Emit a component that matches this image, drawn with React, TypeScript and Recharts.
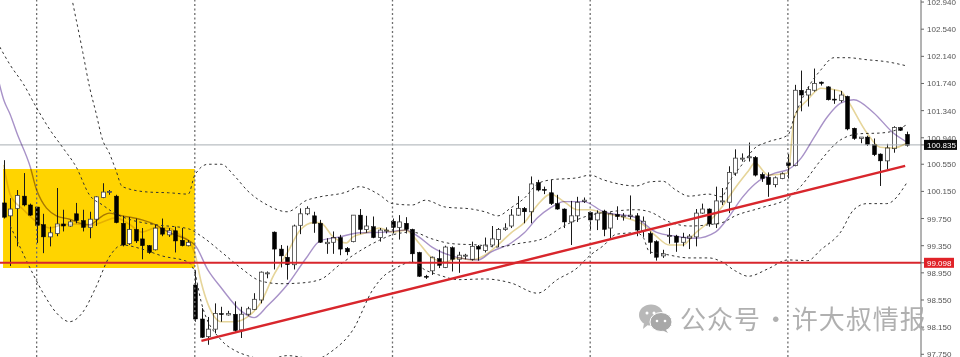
import { Bar, ComposedChart, Line, ReferenceArea, ReferenceLine, XAxis, YAxis } from 'recharts';

const opens = [99.98,99.79,99.90,100.08,99.95,99.92,99.66,99.48,99.53,99.67,99.64,99.82,99.72,99.62,99.74,100.06,100.14,100.08,99.68,99.38,99.59,99.45,99.35,99.29,99.61,99.51,99.57,99.43,99.35,98.77,98.27,98.01,98.12,98.35,98.33,98.34,98.11,98.34,98.41,98.55,98.94,99.55,99.30,99.18,99.07,99.65,99.82,99.79,99.68,99.38,99.40,99.47,99.31,99.41,99.80,99.59,99.63,99.47,99.57,99.71,99.62,99.68,99.59,99.25,98.90,98.98,99.16,99.03,99.32,99.15,99.20,99.15,99.34,99.28,99.36,99.44,99.59,99.64,99.80,99.90,99.85,100.28,100.18,100.13,99.97,99.89,99.70,99.79,100.00,99.84,99.73,99.86,99.61,99.81,99.78,99.78,99.79,99.57,99.53,99.41,99.20,99.49,99.49,99.40,99.46,99.48,99.83,99.89,99.67,100.00,99.99,100.42,100.63,100.65,100.65,100.40,100.36,100.25,100.34,100.57,100.53,101.64,101.57,101.64,101.76,101.69,101.51,101.49,101.55,101.08,100.93,100.95,100.84,100.70,100.60,100.78,101.09,100.99];
const highs = [100.61,100.05,100.17,100.42,99.97,99.92,99.82,99.63,100.20,99.88,99.73,99.98,99.88,99.85,100.08,100.27,100.17,100.10,99.79,99.77,99.75,99.61,99.36,99.66,99.75,99.61,99.63,99.61,99.43,98.99,98.43,98.30,98.50,98.45,98.39,98.53,98.45,98.45,98.65,98.97,98.97,99.56,99.36,99.35,99.66,99.90,99.93,99.85,99.73,99.46,99.56,99.51,99.33,99.80,99.89,99.79,99.78,99.61,99.62,99.75,99.80,99.77,99.60,99.26,98.92,99.19,99.29,99.35,99.34,99.26,99.23,99.41,99.36,99.47,99.64,99.61,99.68,99.89,100.08,99.92,100.37,100.32,100.22,100.32,100.10,99.90,100.01,100.07,100.06,99.85,99.87,99.88,99.84,99.93,99.83,100.09,99.83,99.78,99.56,99.43,99.29,99.61,99.51,99.54,99.52,99.89,99.97,99.90,100.22,100.20,100.52,100.77,100.71,100.87,100.67,100.43,100.43,100.37,100.43,100.70,101.72,101.93,101.69,101.96,101.77,101.70,101.65,101.63,101.56,101.09,100.95,100.97,100.93,100.71,100.85,101.11,101.10,101.03];
const lows = [99.75,99.05,99.34,99.93,99.79,99.39,99.24,99.34,99.49,99.56,99.63,99.68,99.56,99.46,99.64,100.05,100.10,99.68,99.34,99.36,99.39,99.15,99.23,99.28,99.49,99.48,99.25,99.34,99.34,98.23,97.99,97.89,98.06,98.23,98.32,98.08,97.99,98.32,98.40,98.50,98.87,99.00,99.03,98.85,99.00,99.52,99.80,99.54,99.39,99.23,99.23,99.21,99.21,99.40,99.52,99.54,99.46,99.41,99.53,99.53,99.44,99.53,99.10,98.89,98.86,98.92,99.02,99.02,98.97,98.95,99.15,99.13,99.13,99.25,99.34,99.33,99.57,99.61,99.79,99.68,99.68,100.15,100.11,99.95,99.88,99.61,99.36,99.70,99.98,99.58,99.58,99.49,99.46,99.73,99.72,99.74,99.49,99.48,99.23,99.13,99.17,99.38,99.26,99.34,99.30,99.34,99.82,99.63,99.61,99.95,99.83,100.38,100.59,100.59,100.37,100.29,100.07,100.21,100.33,100.34,100.52,101.33,101.40,101.62,101.71,101.49,101.44,101.46,101.05,100.91,100.86,100.82,100.67,100.23,100.48,100.72,101.04,100.81];
const closes = [99.77,99.89,100.09,99.95,99.80,99.65,99.48,99.54,99.67,99.64,99.70,99.72,99.62,99.74,100.07,100.14,100.15,99.69,99.36,99.59,99.42,99.35,99.25,99.61,99.52,99.57,99.42,99.35,99.40,98.27,98.00,98.12,98.35,98.34,98.35,98.10,98.34,98.42,98.56,98.96,98.95,99.30,99.20,99.07,99.64,99.82,99.90,99.68,99.40,99.40,99.47,99.30,99.26,99.80,99.59,99.64,99.47,99.58,99.58,99.62,99.70,99.59,99.23,98.90,98.89,99.18,99.06,99.33,99.15,99.21,99.21,99.34,99.30,99.36,99.45,99.59,99.61,99.80,99.90,99.85,100.26,100.17,100.17,99.97,99.89,99.70,99.79,99.99,100.02,99.73,99.83,99.59,99.82,99.78,99.79,99.80,99.58,99.71,99.40,99.18,99.23,99.50,99.40,99.47,99.49,99.83,99.89,99.67,100.01,100.01,100.43,100.64,100.64,100.66,100.39,100.34,100.25,100.35,100.41,100.53,101.64,101.57,101.65,101.74,101.74,101.50,101.50,101.57,101.07,100.93,100.95,100.84,100.69,100.60,100.79,101.09,101.05,100.83];

const upperIdx = [9,10,11,12,13,14,15,16,17,18,22,25,28,29,31,33,35,37,40,43,46,48,52,54,57,59,62,64,67,71,73,75,77,79,81,83,87,89,91,96,98,100,102,104,107,109,110,112,114,116,119,120,122,124,126,128,131,134,137];
const upperVals = [103.3,103.12,102.68,102.20,101.70,101.31,100.91,100.72,100.47,100.22,100.14,100.13,100.11,100.39,100.55,100.55,100.38,100.16,99.95,99.85,100.02,100.07,100.14,100.22,100.10,99.97,99.95,100.02,99.92,99.89,99.85,99.79,99.91,100.05,100.26,100.32,100.35,100.39,100.32,100.23,100.29,100.30,100.17,100.08,100.11,100.07,100.27,100.54,100.79,100.88,100.98,101.25,101.67,101.94,102.12,102.12,102.09,102.06,102.00];
const middleIdx = [-1,1,3,5,7,9,11,13,15,17,19,23,28,30,33,36,39,42,45,48,51,54,57,59,62,65,68,72,75,78,82,85,89,92,96,98,101,104,109,111,115,119,121,124,127,130,133,135,137];
const middleVals = [102.35,102.01,101.73,101.38,101.06,100.79,100.51,100.10,99.95,99.82,99.74,99.66,99.60,99.49,99.26,99.02,98.83,98.79,98.80,98.85,99.07,99.27,99.43,99.51,99.55,99.45,99.38,99.36,99.33,99.38,99.46,99.64,99.80,99.85,99.88,99.85,99.70,99.64,99.69,99.79,99.91,100.05,100.23,100.61,100.91,101.00,101.01,101.04,101.13];
const lowerIdx = [1,2,4,6,8,10,12,14,16,18,21,24,28,29,30,33,35,37,40,43,45,47,50,53,56,58,59,62,64,66,69,73,77,81,84,87,89,91,93,96,97,98,100,104,107,109,111,113,116,119,122,124,127,129,131,134,137];
const lowerVals = [99.64,99.43,99.02,98.65,98.36,98.23,98.37,98.74,99.18,99.36,99.30,99.20,99.11,98.95,98.51,97.96,97.81,97.73,97.67,97.73,97.71,97.67,97.81,98.11,98.70,98.93,98.99,99.11,98.99,98.92,98.85,98.86,98.80,98.65,98.85,99.02,99.21,99.35,99.52,99.54,99.48,99.26,99.23,99.17,99.17,99.11,98.98,98.90,99.01,99.14,99.13,99.29,99.55,99.88,99.97,99.97,100.27];
const fastIdx = [0,1,3,5,7,9,11,13,15,17,19,21,23,25,27,28,29,30,32,33,35,37,39,41,43,45,47,48,50,52,53,55,57,59,61,63,65,67,69,71,73,75,77,79,81,83,85,87,89,91,94,97,99,101,103,105,107,109,111,113,114,116,119,120,122,124,127,128,131,133,135,137];
const fastVals = [100.54,100.10,99.88,99.70,99.61,99.66,99.67,99.64,99.70,99.76,99.67,99.55,99.61,99.61,99.49,99.43,99.24,98.80,98.30,98.23,98.23,98.30,98.51,98.92,99.24,99.58,99.69,99.69,99.48,99.39,99.48,99.54,99.61,99.55,99.58,99.39,99.17,99.11,99.17,99.14,99.21,99.36,99.54,99.69,99.95,100.11,100.00,99.88,99.88,99.83,99.77,99.66,99.49,99.36,99.36,99.54,99.70,99.92,100.20,100.45,100.57,100.39,100.42,101.25,101.50,101.67,101.63,101.50,101.01,100.80,100.79,100.86];
const slowIdx = [-1,0,1,2,4,5,8,10,12,13,15,16,18,21,23,25,29,31,33,36,38,40,43,46,48,51,54,58,61,63,65,68,72,74,77,79,81,83,85,88,91,96,97,99,102,105,108,110,112,114,117,119,121,123,125,127,129,132,135,137];
const slowVals = [101.87,101.50,101.28,101.01,100.52,100.17,99.79,99.74,99.67,99.66,99.79,99.83,99.79,99.73,99.66,99.55,99.36,98.99,98.73,98.39,98.29,98.46,98.77,99.18,99.42,99.48,99.54,99.55,99.58,99.48,99.33,99.20,99.14,99.26,99.39,99.54,99.76,99.91,100.00,100.00,99.85,99.76,99.69,99.55,99.49,99.46,99.55,99.77,100.05,100.26,100.42,100.47,100.64,100.95,101.25,101.45,101.50,101.31,101.01,100.88];

const priceTicks = [102.94,102.54,102.14,101.74,101.34,100.94,100.835,100.55,100.15,99.75,99.35,99.098,98.95,98.55,98.15,97.75];
const sessionBreaks = [5,29,59,89,119];
const lastPrice = 100.835;
const supportPrice = 99.098;

const candles = opens.map((open, i) => ({ x: i, open, high: highs[i], low: lows[i], close: closes[i] }));
const toPoints = (idx: number[], vals: number[]) => idx.map((x, i) => ({ x, v: vals[i] }));
const multiply = { mixBlendMode: 'multiply' } as const;

function Candle(props: any) {
  const { x, y, width, height, payload } = props;
  const cx = Math.round(x + width / 2) + 0.5;
  const k = height / (payload.high - payload.low);
  const top = y + (payload.high - Math.max(payload.open, payload.close)) * k;
  const bodyH = Math.max(Math.abs(payload.open - payload.close) * k, 1);
  const up = payload.close >= payload.open;
  return (
    <g>
      <line x1={cx} x2={cx} y1={y} y2={y + height} stroke="#1a1a1a" strokeWidth={1} />
      <rect x={cx - 2} y={top} width={4} height={bodyH} fill={up ? '#fff' : '#000'} stroke={up ? '#444' : '#000'} strokeWidth={up ? 0.8 : 0.5} />
    </g>
  );
}

function PriceTick(props: any) {
  const { x, y, payload } = props;
  const v = payload.value;
  const label = v.toFixed(3);
  if (v === lastPrice || v === supportPrice) {
    const red = v === supportPrice;
    return (
      <g>
        <rect x={x - 3} y={y - 5} width={red ? 30 : 33} height={10} fill={red ? '#e02228' : '#0a0a0a'} />
        <text x={x} y={y + 3} fontSize={8} fill="#fff" fontFamily="Liberation Sans">{label}</text>
      </g>
    );
  }
  return <text x={x} y={y + 3} fontSize={8} fill="#555" fontFamily="Liberation Sans">{label}</text>;
}

export default function App() {
  return (
    <div style={{ position: 'absolute', left: 0, top: 0, width: 960, height: 357, background: '#fff', overflow: 'hidden', filter: 'blur(0.5px)' }}>
      <ComposedChart width={960} height={357} data={candles} margin={{ top: 0, right: 0, bottom: 0, left: 0 }}>
        <XAxis dataKey="x" type="number" domain={[-0.561, 139.2]} hide allowDataOverflow />
        <YAxis
          orientation="right"
          width={39}
          domain={[97.71, 102.97]}
          allowDataOverflow
          ticks={priceTicks}
          interval={0}
          tick={<PriceTick />}
          tickSize={3}
          tickMargin={3}
          axisLine={{ stroke: '#666' }}
          tickLine={{ stroke: '#666' }}
        />
        <ReferenceArea x1={-0.1} x2={29} y1={99.02} y2={100.48} fill="#ffd400" fillOpacity={1} stroke="none" />
        {sessionBreaks.map((b) => (
          <ReferenceLine key={b} x={b} stroke="#6e6e6e" strokeDasharray="2 2.5" strokeWidth={1.3} />
        ))}
        <ReferenceLine y={lastPrice} stroke="#a9aeb3" strokeWidth={1} />
        <Line data={toPoints(upperIdx, upperVals)} dataKey="v" type="monotone" stroke="#333" strokeWidth={1} strokeDasharray="2.5 3" dot={false} activeDot={false} isAnimationActive={false} />
        <Line data={toPoints(middleIdx, middleVals)} dataKey="v" type="monotone" stroke="#333" strokeWidth={1} strokeDasharray="2.5 3" dot={false} activeDot={false} isAnimationActive={false} />
        <Line data={toPoints(lowerIdx, lowerVals)} dataKey="v" type="monotone" stroke="#333" strokeWidth={1} strokeDasharray="2.5 3" dot={false} activeDot={false} isAnimationActive={false} />
        <Line data={toPoints(fastIdx, fastVals)} dataKey="v" type="monotone" stroke="#e6d59a" strokeWidth={1.6} style={multiply} dot={false} activeDot={false} isAnimationActive={false} />
        <Line data={toPoints(slowIdx, slowVals)} dataKey="v" type="monotone" stroke="#a892c8" strokeWidth={1.4} style={multiply} dot={false} activeDot={false} isAnimationActive={false} />
        <Bar dataKey={(d: any) => [d.low, d.high]} barSize={5} shape={<Candle />} activeBar={false} isAnimationActive={false} />
        <ReferenceLine y={supportPrice} stroke="#d8262c" strokeWidth={2} />
        <ReferenceLine segment={[{ x: 30, y: 97.947 }, { x: 136.8, y: 100.525 }]} stroke="#d8262c" strokeWidth={2.4} />
      </ComposedChart>
      <svg width={36} height={30} style={{ position: 'absolute', left: 639, top: 304 }}>
        <ellipse cx={12} cy={11} rx={12} ry={10.5} fill="#b8b8b8" />
        <path d="M5 19 L4 25 L10 20 Z" fill="#b8b8b8" />
        <ellipse cx={22} cy={18} rx={11} ry={9.5} fill="#a8a8a8" stroke="#fff" strokeWidth={1} />
        <path d="M27 26 L29 29 L23 26 Z" fill="#a8a8a8" />
        <circle cx={8} cy={9} r={1.5} fill="#fff" />
        <circle cx={15} cy={9} r={1.5} fill="#fff" />
        <circle cx={18} cy={17} r={1.3} fill="#fff" />
        <circle cx={26} cy={17} r={1.3} fill="#fff" />
      </svg>
      <div style={{ position: 'absolute', left: 680, top: 300, fontFamily: '"Noto Sans CJK SC"', fontSize: 26, lineHeight: '36px', letterSpacing: 1, wordSpacing: -5, color: '#a8a8a8', whiteSpace: 'nowrap', opacity: 0.9 }}>
        公众号 · 许大叔情报
      </div>
    </div>
  );
}
